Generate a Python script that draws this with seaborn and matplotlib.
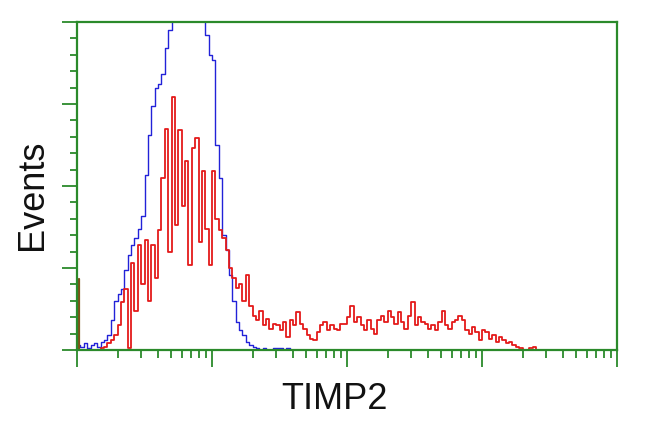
import numpy as np
import pandas as pd
import matplotlib
matplotlib.use('Agg')
from matplotlib import pyplot as plt
from matplotlib.ticker import MultipleLocator, FixedLocator
import seaborn as sns

# histogram layout: 160 log-spaced channels over 4 decades (x in log10 units)
N_BINS = 160
DECADES = 4

# control (blue) events per channel
blue_counts = [3, 2, 4, 1, 3, 4, 2, 5, 6, 9,
               18, 30, 34, 37, 49, 58, 64, 68, 74, 82,
               107, 131, 149, 160, 162, 168, 184, 195, 215, 235,
               255, 270, 280, 285, 275, 260, 240, 222, 192, 180,
               177, 125, 105, 70, 61, 46, 30, 17, 12, 9,
               5, 3, 2, 1, 0, 1, 0, 0, 1, 1,
               1, 0, 1]

# TIMP2 stained (red) events per channel
red_counts = [0, 0, 0, 0, 0, 0, 0, 1, 2, 4,
              6, 9, 15, 29, 37, 1, 53, 24, 64, 40,
              67, 30, 64, 44, 73, 105, 135, 60, 154, 76,
              134, 88, 115, 52, 123, 129, 66, 109, 74, 52,
              109, 80, 73, 68, 61, 50, 44, 38, 40, 30,
              46, 27, 21, 18, 24, 15, 19, 13, 16, 15,
              12, 17, 8, 18, 15, 23, 16, 13, 9, 7,
              6, 11, 15, 17, 12, 15, 13, 12, 16, 16,
              20, 27, 17, 20, 15, 12, 18, 13, 10, 18,
              21, 17, 24, 20, 16, 23, 17, 13, 21, 29,
              15, 20, 17, 16, 13, 15, 12, 17, 24, 15,
              13, 17, 18, 21, 18, 12, 10, 14, 11, 6,
              12, 11, 7, 9, 5, 8, 6, 4, 5, 3,
              2, 1, 0, 0, 1, 2, 0]

# events piled up in the very first channel
pile_channel = 0.012
pile_events = 43

channels = (np.arange(N_BINS) + 0.5) * DECADES / N_BINS
blue = np.zeros(N_BINS)
blue[:len(blue_counts)] = blue_counts
red = np.zeros(N_BINS)
red[:len(red_counts)] = red_counts
df = pd.DataFrame({'channel': channels, 'blue': blue, 'red': red})

sns.set_style('white')
plt.rcParams['font.family'] = ['Liberation Sans', 'DejaVu Sans']

green = '#2b8a2b'
fig = plt.figure(figsize=(6.5, 4.32), dpi=100)
ax = fig.add_axes([77 / 650, 1 - 350 / 432, 540 / 650, 328 / 432])

sns.histplot(data=df, x='channel', weights='blue', bins=N_BINS,
             binrange=(0, DECADES), element='step', fill=False,
             color='#2222d8', linewidth=1.0, ax=ax)
sns.histplot(data=df, x='channel', weights='red', bins=N_BINS,
             binrange=(0, DECADES), element='step', fill=False,
             color='#e41a1a', linewidth=1.3, ax=ax)
sns.lineplot(x=[pile_channel, pile_channel], y=[0, pile_events],
             estimator=None, sort=False,
             color='#7d5218', linewidth=1.6, ax=ax)

ax.set_xlim(0, DECADES)
ax.set_ylim(0, 200)

# log-style ticks on the x axis
ax.xaxis.set_major_locator(FixedLocator(np.arange(DECADES + 1)))
minor = [d + np.log10(k) for d in range(DECADES) for k in range(2, 10)]
ax.xaxis.set_minor_locator(FixedLocator(minor))
ax.yaxis.set_major_locator(MultipleLocator(50))
ax.yaxis.set_minor_locator(MultipleLocator(10))

ax.tick_params(axis='both', which='both', direction='out', color=green,
               width=1.3, labelbottom=False, labelleft=False,
               bottom=True, left=True, top=False, right=False)
ax.tick_params(axis='x', which='major', length=12)
ax.tick_params(axis='x', which='minor', length=6)
ax.tick_params(axis='y', which='major', length=10.5)
ax.tick_params(axis='y', which='minor', length=5)

for s in ax.spines.values():
    s.set_color(green)
    s.set_linewidth(1.6)
    s.set_visible(True)

ax.set_xlabel('')
ax.set_ylabel('')
fig.text(334 / 650, 1 - 409 / 432, 'TIMP2', fontsize=26,
         ha='center', va='baseline', color='#111111')
fig.text(42 / 650, 1 - 195 / 432, 'Events', fontsize=26, rotation=90,
         rotation_mode='anchor', ha='center', va='baseline', color='#111111')

fig.savefig('out.png', dpi=100)
